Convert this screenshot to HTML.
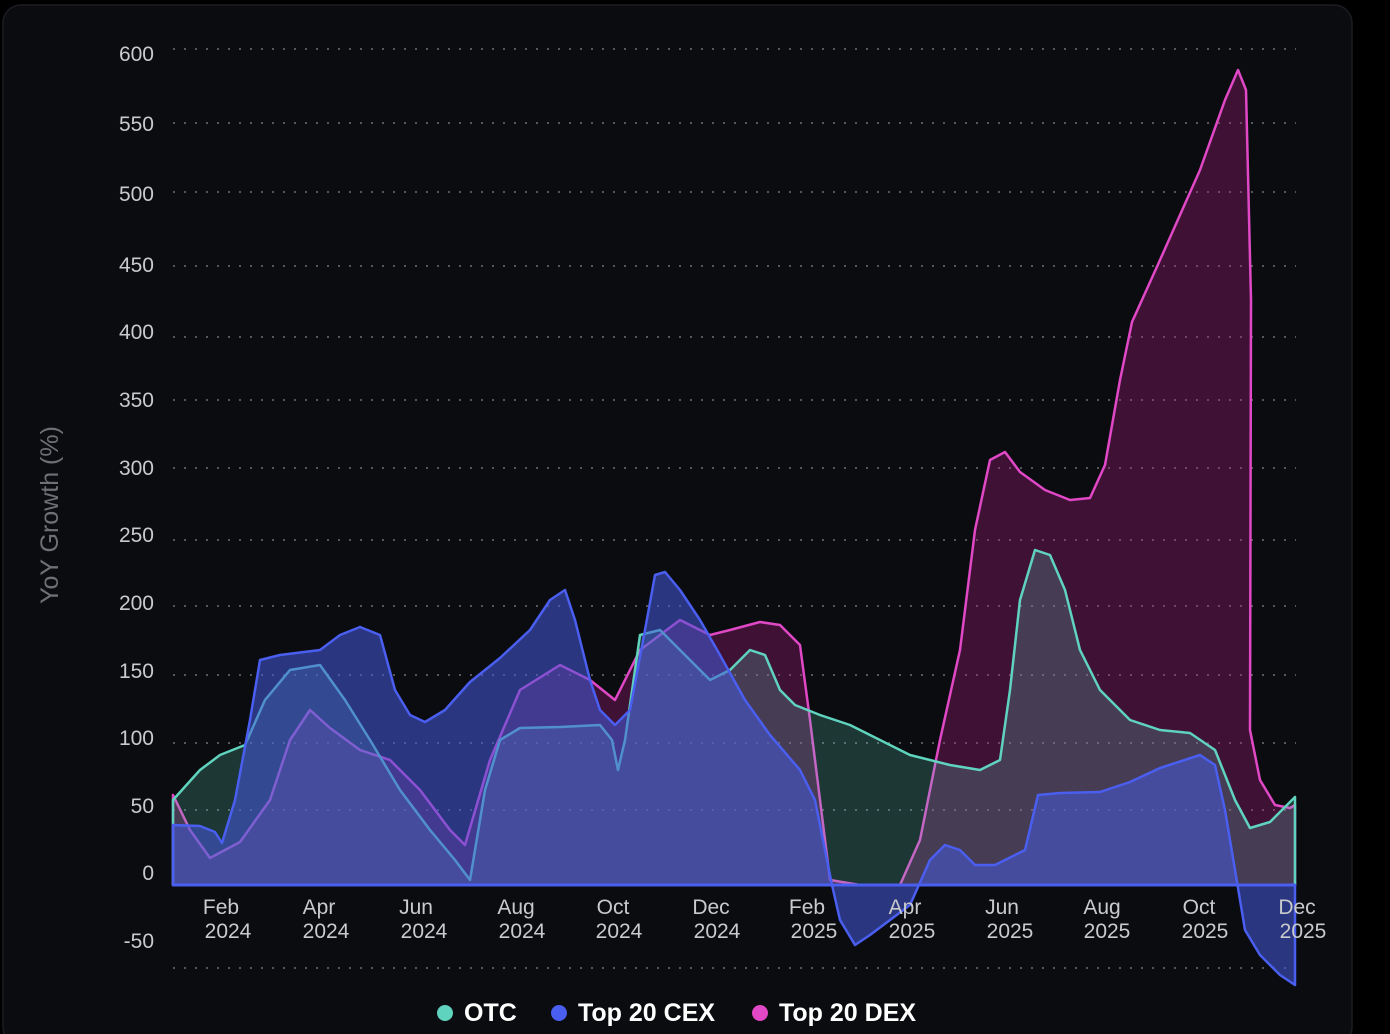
<!DOCTYPE html>
<html><head><meta charset="utf-8"><style>
html,body{margin:0;padding:0;background:#000;}
svg{display:block;font-family:"Liberation Sans",sans-serif;}
</style></head><body>
<svg width="1390" height="1034" viewBox="0 0 1390 1034" xmlns="http://www.w3.org/2000/svg">
<rect x="0" y="0" width="1390" height="1034" fill="#000"/>
<rect x="3" y="5" width="1349" height="1040" rx="18" fill="#0b0c0f" stroke="#1c1d22" stroke-width="1.5"/>
<g stroke="#55575c" stroke-width="2" stroke-dasharray="2 9">
<line x1="173" x2="1296" y1="49" y2="49"/><line x1="173" x2="1296" y1="123" y2="123"/>
<line x1="173" x2="1296" y1="192" y2="192"/><line x1="173" x2="1296" y1="266" y2="266"/>
<line x1="173" x2="1296" y1="337" y2="337"/><line x1="173" x2="1296" y1="400" y2="400"/>
<line x1="173" x2="1296" y1="468" y2="468"/><line x1="173" x2="1296" y1="540" y2="540"/>
<line x1="173" x2="1296" y1="606" y2="606"/><line x1="173" x2="1296" y1="675" y2="675"/>
<line x1="173" x2="1296" y1="743" y2="743"/><line x1="173" x2="1296" y1="810" y2="810"/>
<line x1="173" x2="1296" y1="968" y2="968"/>
</g>
<g fill="#c9cacd" font-size="21" text-anchor="end">
<text x="154" y="61">600</text><text x="154" y="131">550</text><text x="154" y="201">500</text>
<text x="154" y="272">450</text><text x="154" y="339">400</text><text x="154" y="407">350</text>
<text x="154" y="475">300</text><text x="154" y="542">250</text><text x="154" y="610">200</text>
<text x="154" y="678">150</text><text x="154" y="745">100</text><text x="154" y="813">50</text>
<text x="154" y="880">0</text><text x="154" y="948">-50</text>
</g>
<text transform="translate(58,515) rotate(-90)" fill="#6f7075" font-size="25" text-anchor="middle">YoY Growth (%)</text>
<!-- DEX -->
<path d="M173,795 L190,830 210,858 240,842 270,800 290,740 310,710 330,728 360,750 390,760 420,790 450,830 465,845 490,760 520,690 560,665 590,680 615,700 640,650 680,620 710,635 730,630 760,622 780,625 800,645 810,720 820,800 830,880 860,885 900,885 920,840 940,740 960,650 975,530 990,460 1005,452 1020,472 1045,490 1070,500 1090,498 1105,465 1120,380 1132,322 1160,260 1200,170 1225,100 1238,70 1246,90 1251,300 1250,730 1260,780 1275,805 1290,808 1295,805 L1295,885 L173,885 Z" fill="rgba(170,30,130,0.33)" stroke="#e048c6" stroke-width="2.5" stroke-linejoin="round"/>
<!-- OTC -->
<path d="M173,800 L200,770 220,755 245,745 265,700 290,670 320,665 345,700 370,740 400,790 430,830 455,860 470,880 485,790 500,740 520,728 560,727 600,725 612,740 618,770 625,740 640,635 660,630 690,660 710,680 730,670 750,650 765,655 780,690 795,705 820,715 850,725 880,740 910,755 950,765 980,770 1000,760 1010,690 1020,600 1035,550 1050,555 1065,590 1080,650 1100,690 1130,720 1160,730 1190,733 1215,750 1235,800 1250,828 1270,822 1295,797 L1295,885 L173,885 Z" fill="rgba(95,211,189,0.22)" stroke="#5fd3bd" stroke-width="2.5" stroke-linejoin="round"/>
<!-- CEX -->
<path d="M173,825 L200,826 215,832 222,843 235,800 250,720 260,660 280,655 320,650 340,635 360,627 380,635 395,690 410,715 425,722 445,710 470,682 500,658 530,630 550,600 565,590 575,620 590,680 600,710 615,725 630,710 645,630 655,575 665,572 680,590 700,620 720,655 745,700 770,735 800,770 815,800 825,850 832,885 840,920 855,945 870,935 890,920 910,905 930,860 945,845 960,850 975,865 995,865 1025,850 1038,795 1060,793 1100,792 1130,782 1160,768 1200,755 1215,765 1225,810 1235,870 1245,930 1260,955 1280,975 1295,985 L1295,885 L173,885 Z" fill="rgba(70,90,220,0.55)" stroke="#4a5ef0" stroke-width="2.5" stroke-linejoin="round"/>
<line x1="173" x2="1295" y1="885" y2="885" stroke="#4a5ef0" stroke-width="3"/>
<g fill="#c9cacd" font-size="21" text-anchor="middle">
<text x="221" y="914">Feb</text><text x="228" y="938">2024</text>
<text x="319" y="914">Apr</text><text x="326" y="938">2024</text>
<text x="416" y="914">Jun</text><text x="424" y="938">2024</text>
<text x="516" y="914">Aug</text><text x="522" y="938">2024</text>
<text x="613" y="914">Oct</text><text x="619" y="938">2024</text>
<text x="711" y="914">Dec</text><text x="717" y="938">2024</text>
<text x="807" y="914">Feb</text><text x="814" y="938">2025</text>
<text x="905" y="914">Apr</text><text x="912" y="938">2025</text>
<text x="1002" y="914">Jun</text><text x="1010" y="938">2025</text>
<text x="1102" y="914">Aug</text><text x="1107" y="938">2025</text>
<text x="1199" y="914">Oct</text><text x="1205" y="938">2025</text>
<text x="1297" y="914">Dec</text><text x="1303" y="938">2025</text>
</g>
<g font-size="25" font-weight="bold" fill="#fff">
<circle cx="445" cy="1013" r="8" fill="#5fd3bd"/><text x="464" y="1021">OTC</text>
<circle cx="559" cy="1013" r="8" fill="#4a5ef0"/><text x="578" y="1021">Top 20 CEX</text>
<circle cx="760" cy="1013" r="8" fill="#e048c6"/><text x="779" y="1021">Top 20 DEX</text>
</g>
</svg>
</body></html>
